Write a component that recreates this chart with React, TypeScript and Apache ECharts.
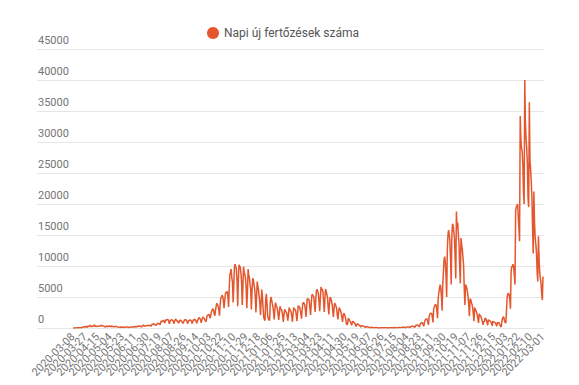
import React, { useEffect, useRef } from "react";
import * as echarts from "echarts";

const SERIES_NAME = "Napi új fertőzések száma";
const START_DATE = "2020-03-08";
const END_DATE = "2022-03-01";
const MISSING_DATE = "2021-07-26";
const Y_MIN = 0;
const Y_MAX = 45000;
const Y_STEP = 5000;
const LABEL_EVERY = 19;

const m2020_03 = [2,2,2,4,17,18,44,29,45,26,30,31,31,59,66,143,186,144,123,263,92,308,93,291];
const m2020_04 = [246,305,445,305,197,251,279,361,313,523,261,320,219,297,333,295,328,306,317,401,298,433,361,357,211,190,241,193,334,239];
const m2020_05 = [264,235,349,250,190,345,260,227,244,190,217,228,187,263,169,180,145,151,138,160,152,162,133,101,128,120,131,150,157,148,149];
const m2020_06 = [98,119,135,157,171,127,163,143,201,146,191,224,241,262,210,266,320,320,272,264,200,250,260,460,454,321,310,330,298,422];
const m2020_07 = [393,412,430,441,356,300,555,614,555,698,615,519,432,460,595,777,767,698,689,530,1030,1112,1030,1119,1284,1104,797,1151,1356,1295,1295];
const m2020_08 = [1384,1120,680,1096,1232,1345,1378,1215,1120,698,1030,1352,1415,1245,1060,1130,780,960,1200,1290,1150,1060,950,730,950,1270,1340,1350,1300,1140,700];
const m2020_09 = [1010,1190,1230,1320,1290,1080,720,1000,1360,1250,1440,1250,1200,750,1000,1350,1600,1700,1480,1350,850,1300,1650,1760,1600,1470,1500,1000,1340,2000];
const m2020_10 = [2050,2150,2200,1800,1600,2300,2700,3000,3100,2900,2200,1970,2900,3600,4000,4000,3500,2900,2000,3600,4800,5000,5300,5100,4500,3200,4300,5400,5800,5700,5900];
const m2020_11 = [5000,3400,6400,8600,9000,9500,8100,7400,4100,6800,9800,10300,10300,9500,7600,3500,7600,10200,10200,9800,8800,7400,3700,6700,9900,9000,8700,8000,6500,3200];
const m2020_12 = [5800,9500,8500,8100,7000,6200,3000,5900,8000,7800,7000,6400,5000,2500,5000,7500,6700,6200,5000,4100,2100,4200,6200,5000,3200,1700,1400,1200,4500,5500,4000];
const m2021_01 = [2000,1500,1300,1200,4000,5000,4600,4000,3500,2700,1400,2800,4100,3700,3400,3000,2200,1300,2400,3500,3100,3000,2700,2100,1000,2000,3000,3000,2600,2500,1900];
const m2021_02 = [1200,2100,3300,3000,2800,2600,2000,1000,2200,3300,3100,3000,2800,2100,1100,2300,3600,3500,3400,3000,2300,1500,2900,4000,4100,4000,3700,2900];
const m2021_03 = [1800,3500,4800,4500,4700,4300,3100,2100,4000,5300,5400,5200,5000,3600,2600,4600,6100,6200,5900,5500,4100,2700,4900,6600,6300,6200,5800,4200,2600,4800,6300];
const m2021_04 = [5900,5400,4900,3400,2200,3900,5000,4800,4400,3900,2800,1800,3200,4000,3800,3500,3100,2100,1400,2600,3300,3000,2800,2400,1700,1000,1900,2400,2200,1900];
const m2021_05 = [1400,700,500,800,1600,1400,1200,1050,800,420,900,1100,950,850,700,480,260,560,700,600,520,450,300,140,330,400,330,290,260,170,90];
const m2021_06 = [180,240,190,160,150,90,40,110,130,100,90,80,60,25,70,80,70,60,50,35,15,45,55,45,40,35,25,10,35,45];
const m2021_07 = [50,45,40,30,12,40,50,55,50,45,30,15,45,60,65,60,55,40,20,60,80,90,85,80,60,95,120,130,130,110];
const m2021_08 = [90,40,140,170,180,190,180,130,70,230,290,290,300,280,210,100,340,460,460,480,440,330,170,560,750,800,850,800,560,300,1000];
const m2021_09 = [1300,1400,1500,1400,1000,500,1800,2200,2400,2400,2300,1700,900,3000,3400,3700,3800,3600,2800,1600,4800,5800,6400,7000,6500,5100,2800,7000,9000,11000];
const m2021_10 = [11500,10500,8500,5000,12500,15000,15800,15000,14000,11000,7000,15000,16800,16500,15500,14500,11300,8000,18800,16000,17000,15000,13500,10000,7200,14500,13500,12800,11500,10200,6500];
const m2021_11 = [3700,7000,6700,6400,5800,5000,3500,1900,4700,4600,4100,3800,3200,2200,1100,3300,3000,2800,2500,2100,1500,800,2300,2100,1900,1700,1400,1000,500,1100];
const m2021_12 = [1000,1600,1500,1300,900,450,1300,1300,1200,1100,1000,700,350,1100,1000,950,900,800,550,300,900,850,900,700,450,250,200,1200,1600,1800,1700];
const m2022_01 = [1000,900,800,3000,5000,5500,5600,5400,4600,3100,9000,10000,9800,10300,9800,8500,7000,19000,19500,19500,20000,20000,16000,14000,34200,30500,29000,28500,26500,22000,20000];
const m2022_02 = [40000,33000,30500,29000,26500,21000,19500,36400,27000,25500,23500,21000,16000,12000,22000,17000,14500,13500,12000,9000,7500,14800,11000,9000,8000,7200,5500,4500];
const m2022_03 = [8300];

const values: number[] = [
  ...m2020_03, ...m2020_04, ...m2020_05, ...m2020_06, ...m2020_07, ...m2020_08,
  ...m2020_09, ...m2020_10, ...m2020_11, ...m2020_12,
  ...m2021_01, ...m2021_02, ...m2021_03, ...m2021_04, ...m2021_05, ...m2021_06,
  ...m2021_07, ...m2021_08, ...m2021_09, ...m2021_10, ...m2021_11, ...m2021_12,
  ...m2022_01, ...m2022_02, ...m2022_03,
];

function buildDates(): string[] {
  const out: string[] = [];
  const d = new Date(START_DATE + "T00:00:00Z");
  const end = new Date(END_DATE + "T00:00:00Z");
  while (d.getTime() <= end.getTime()) {
    const s = d.toISOString().slice(0, 10);
    if (s !== MISSING_DATE) out.push(s);
    d.setUTCDate(d.getUTCDate() + 1);
  }
  return out;
}

const dates = buildDates();

const LINE_COLOR = "#e4572e";
const AXIS_TEXT = "#757575";

export default function App() {
  const ref = useRef<HTMLDivElement>(null);
  useEffect(() => {
    if (!ref.current) return;
    const chart = echarts.init(ref.current, undefined, { renderer: "svg" });
    chart.setOption({
      animation: false,
      backgroundColor: "#ffffff",
      textStyle: { fontFamily: "Roboto" },
      legend: {
        data: [SERIES_NAME],
        left: 202,
        top: 22,
        icon: "circle",
        itemWidth: 12,
        itemHeight: 12,
        textStyle: { fontSize: 12, color: "#555555", fontFamily: "Roboto" },
      },
      grid: [
        { left: 37, right: 35, top: 49, bottom: 57 },
        { left: 73, right: 36, top: 49, bottom: 57 },
      ],
      xAxis: [
        { gridIndex: 0, type: "value", show: false, min: 0, max: 1 },
        {
          gridIndex: 1,
          type: "category",
          data: dates,
          boundaryGap: false,
          axisLine: { show: false },
          axisTick: { show: false },
          splitLine: { show: false },
          axisLabel: {
            interval: 0,
            rotate: 45,
            fontSize: 11,
            color: AXIS_TEXT,
            margin: 7,
            hideOverlap: false,
            fontFamily: "Roboto",
            formatter: (v: string, i: number) => (i % LABEL_EVERY === 0 ? v : ""),
          },
        },
      ],
      yAxis: [
        {
          gridIndex: 0,
          type: "value",
          min: Y_MIN,
          max: Y_MAX,
          interval: Y_STEP,
          axisLine: { show: false },
          axisTick: { show: false },
          splitLine: { lineStyle: { color: "#e6e6e6", width: 1 } },
          axisLabel: {
            inside: true,
            margin: 1,
            verticalAlign: "bottom",
            padding: [0, 0, 3, 0],
            fontSize: 11,
            color: AXIS_TEXT,
            fontFamily: "Roboto",
            formatter: (v: number) => String(v),
          },
        },
        { gridIndex: 1, type: "value", min: Y_MIN, max: Y_MAX, show: false },
      ],
      series: [
        {
          name: SERIES_NAME,
          type: "line",
          xAxisIndex: 1,
          yAxisIndex: 1,
          data: values,
          showSymbol: false,
          symbol: "circle",
          lineStyle: { color: LINE_COLOR, width: 1.5 },
          itemStyle: { color: LINE_COLOR },
        },
      ],
    });
    return () => chart.dispose();
  }, []);
  return (
    <div
      ref={ref}
      style={{ position: "fixed", left: 0, top: 0, width: 579, height: 385 }}
    />
  );
}
